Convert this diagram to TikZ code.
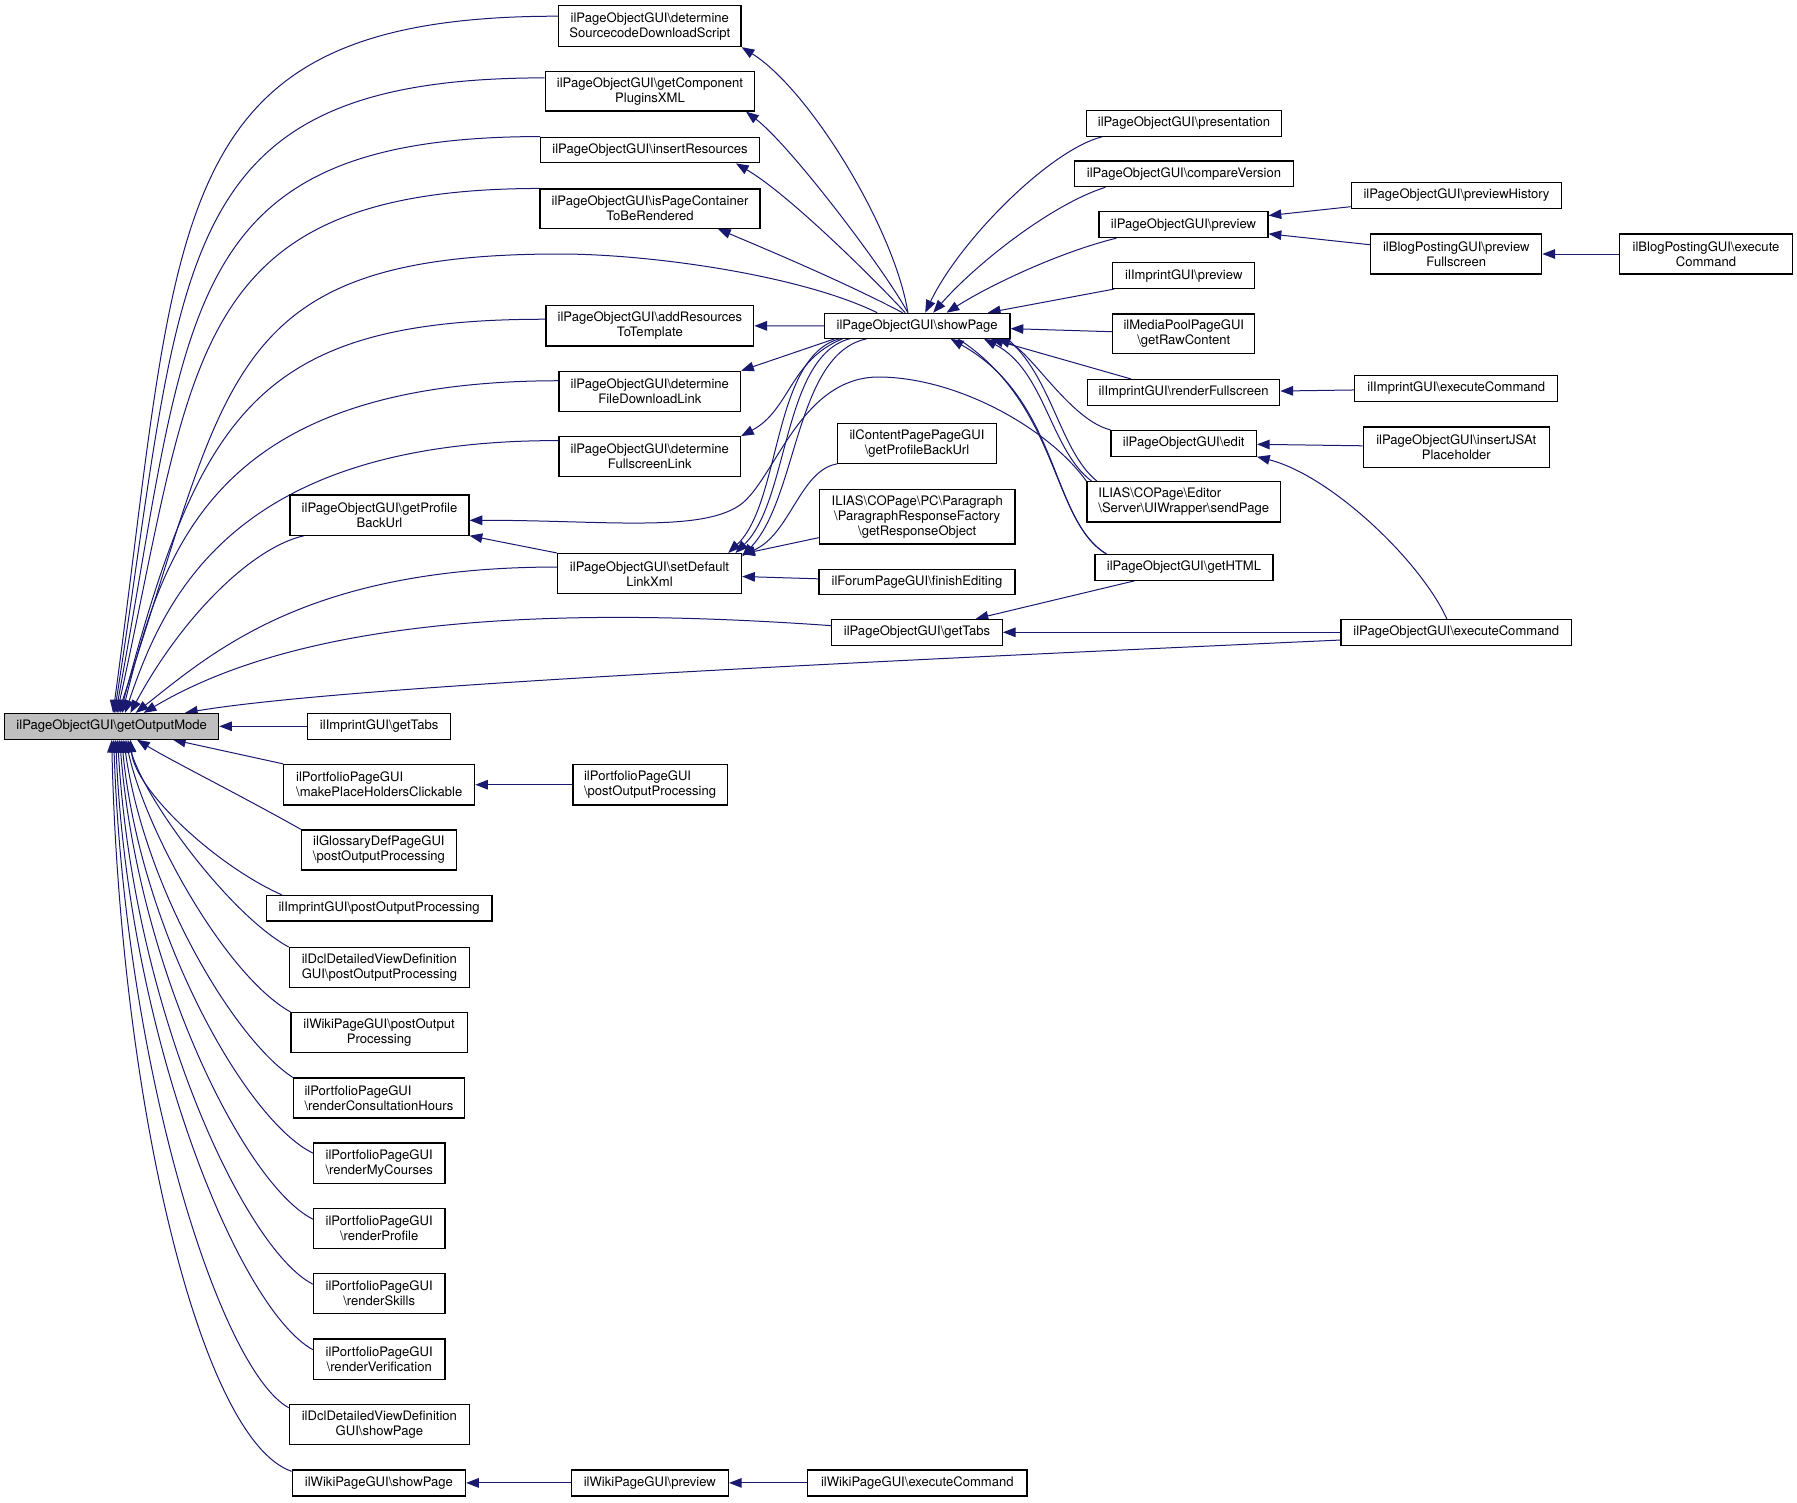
\documentclass[tikz,border=0pt]{standalone}
\usepackage{fontspec}
\setmainfont{TeX Gyre Heros}
\usetikzlibrary{arrows.meta}
\definecolor{edgeblue}{HTML}{191970}
\definecolor{nodegray}{HTML}{BFBFBF}
\newcommand{\bks}{\textbackslash}
\pgfdeclarelayer{bglayer}
\pgfdeclarelayer{edgelayer}
\pgfsetlayers{bglayer,edgelayer,main}
\newcommand{\bx}[6][]{\node[box,minimum width=#4*0.75pt,minimum height=#5*0.75pt,#1] (#2) at (#3) {#6};}
\begin{document}
\begin{tikzpicture}[x=0.75pt,y=-0.75pt,
  box/.style={draw=black,line width=0.9pt,fill=white,inner sep=0pt,align=center,font=\fontsize{9.8pt}{11.25pt}\selectfont},
  e/.style={draw=edgeblue,line width=0.75pt,-{Triangle[length=9.5pt,width=7.2pt]}}]
\useasboundingbox (0,0) rectangle (1797,1502);
\begin{pgfonlayer}{bglayer}
\fill[white] (0,0) rectangle (1797,1502);
\end{pgfonlayer}

% ---- nodes ----
\bx[fill=nodegray]{gom}{111.7,726.3}{214}{25.7}{ilPageObjectGUI\bks getOutputMode}
\bx{sds}{649.8,26.2}{182.5}{40.7}{ilPageObjectGUI\bks determine\\SourcecodeDownloadScript}
\bx{cpx}{650,91.2}{209.5}{39.7}{ilPageObjectGUI\bks getComponent\\PluginsXML}
\bx{irs}{650,150}{218.7}{25.7}{ilPageObjectGUI\bks insertResources}
\bx{ipc}{650,208.7}{220}{39.3}{ilPageObjectGUI\bks isPageContainer\\ToBeRendered}
\bx{art}{649.9,325.9}{207.7}{40.2}{ilPageObjectGUI\bks addResources\\ToTemplate}
\bx{fdl}{649.8,391.4}{181.5}{40.2}{ilPageObjectGUI\bks determine\\FileDownloadLink}
\bx{fsl}{649.8,456.6}{181.5}{39.8}{ilPageObjectGUI\bks determine\\FullscreenLink}
\bx{gpb}{379.5,515}{179}{40.2}{ilPageObjectGUI\bks getProfile\\BackUrl}
\bx{sdl}{649.5,573.7}{184.2}{40.3}{ilPageObjectGUI\bks setDefault\\LinkXml}
\bx{igt}{379.2,726.3}{143}{25.7}{ilImprintGUI\bks getTabs}
\bx[align=left]{mph}{379.2,784.7}{191}{40.5}{ilPortfolioPageGUI\\\bks makePlaceHoldersClickable}
\bx[align=left]{ppo}{650.1,784.7}{154.4}{40.5}{ilPortfolioPageGUI\\\bks postOutputProcessing}
\bx{gdp}{378.9,849.9}{155}{40}{ilGlossaryDefPageGUI\\\bks postOutputProcessing}
\bx{ipo}{379.1,908.2}{225.6}{25.6}{ilImprintGUI\bks postOutputProcessing}
\bx{dpo}{379.4,967.6}{180.2}{40}{ilDclDetailedViewDefinition\\GUI\bks postOutputProcessing}
\bx{wpo}{379.1,1032.5}{176.2}{40}{ilWikiPageGUI\bks postOutput\\Processing}
\bx[align=left]{rch}{378.9,1098}{171}{40}{ilPortfolioPageGUI\\\bks renderConsultationHours}
\bx{rmc}{379.2,1163.2}{131.5}{40.4}{ilPortfolioPageGUI\\\bks renderMyCourses}
\bx{rpf}{379.2,1228.4}{131.5}{40}{ilPortfolioPageGUI\\\bks renderProfile}
\bx{rsk}{379.2,1293.6}{131.5}{40.4}{ilPortfolioPageGUI\\\bks renderSkills}
\bx{rvf}{379.2,1359.1}{131.5}{40.4}{ilPortfolioPageGUI\\\bks renderVerification}
\bx{dsp}{379.4,1424.3}{180.2}{40}{ilDclDetailedViewDefinition\\GUI\bks showPage}
\bx{wsp}{378.9,1482.9}{173.3}{26}{ilWikiPageGUI\bks showPage}
\bx{wpv}{649.8,1482.9}{157.3}{26}{ilWikiPageGUI\bks preview}
\bx{wec}{917.3,1482.9}{219.4}{26}{ilWikiPageGUI\bks executeCommand}
\bx{shp}{917.2,325.8}{185.7}{25}{ilPageObjectGUI\bks showPage}
\bx{cpb}{917,443.3}{158.6}{40}{ilContentPagePageGUI\\\bks getProfileBackUrl}
\bx{prf}{917.2,516.7}{195.7}{54.7}{ILIAS\bks COPage\bks PC\bks Paragraph\\\bks ParagraphResponseFactory\\\bks getResponseObject}
\bx{fed}{917,581.8}{196}{25}{ilForumPageGUI\bks finishEditing}
\bx{pgt}{917,632.3}{170.7}{25.7}{ilPageObjectGUI\bks getTabs}
\bx{pre}{1184,123.4}{195}{25.7}{ilPageObjectGUI\bks presentation}
\bx{cmp}{1184,173.8}{219}{25.7}{ilPageObjectGUI\bks compareVersion}
\bx{prv}{1183.5,224.7}{169}{25.7}{ilPageObjectGUI\bks preview}
\bx{ipv}{1183.8,275.6}{142}{25.7}{ilImprintGUI\bks preview}
\bx{grc}{1183.8,333.9}{142}{39.8}{ilMediaPoolPageGUI\\\bks getRawContent}
\bx{rfs}{1183.7,392.4}{192.2}{25.7}{ilImprintGUI\bks renderFullscreen}
\bx{edt}{1183.7,443.3}{145.4}{25.7}{ilPageObjectGUI\bks edit}
\bx[align=left]{snd}{1183.7,501.9}{193.4}{40.2}{ILIAS\bks COPage\bks Editor\\\bks Server\bks UIWrapper\bks sendPage}
\bx{htm}{1184,567.4}{178}{25.7}{ilPageObjectGUI\bks getHTML}
\bx{pec}{1456.2,632.3}{230.5}{25.7}{ilPageObjectGUI\bks executeCommand}
\bx{pvh}{1456.5,195.3}{210.5}{26}{ilPageObjectGUI\bks previewHistory}
\bx{bpf}{1456.3,254}{171}{40}{ilBlogPostingGUI\bks preview\\Fullscreen}
\bx{iec}{1456.3,388.5}{203}{25.7}{ilImprintGUI\bks executeCommand}
\bx{ijs}{1456.3,447.1}{186}{40.2}{ilPageObjectGUI\bks insertJSAt\\Placeholder}
\bx{bec}{1706,254}{172.7}{40}{ilBlogPostingGUI\bks execute\\Command}

% ---- edges ----
\begin{pgfonlayer}{edgelayer}
% upper fan into getOutputMode
\draw[e] ([yshift=7.5pt]sds.west) .. controls (159,16) and (181,213) .. ([xshift=1pt]gom.north);
\draw[e] ([yshift=10pt]cpx.west) .. controls (165,78) and (185,260) .. ([xshift=2pt]gom.north);
\draw[e] (irs.north west) .. controls (175,137) and (190,310) .. ([xshift=3pt]gom.north);
\draw[e] (ipc.north west) .. controls (185,189) and (195,360) .. ([xshift=4pt]gom.north);
\draw[e] ([xshift=-30pt]shp.north) .. controls (800,275) and (650,254) .. (560,254) .. controls (220,254) and (230,380) .. ([xshift=5pt]gom.north);
\draw[e] ([yshift=5pt]art.west) .. controls (260,319) and (200,410) .. ([xshift=6.5pt]gom.north);
\draw[e] ([yshift=8pt]fdl.west) .. controls (220,381) and (165,540) .. ([xshift=8pt]gom.north);
\draw[e] ([yshift=12pt]fsl.west) .. controls (235,440) and (165,595) .. ([xshift=10pt]gom.north);
\draw[e] ([xshift=11pt]gpb.south west) .. controls (250,548) and (180,620) .. ([xshift=14pt]gom.north);
\draw[e] ([yshift=5pt]sdl.west) .. controls (310,567) and (215,650) .. ([xshift=18pt]gom.north);
\draw[e] ([yshift=5pt]pgt.west) .. controls (540,605) and (300,620) .. ([xshift=24pt]gom.north);
\draw[e] ([yshift=-5.8pt]pec.west) .. controls (900,660) and (350,685) .. ([xshift=55pt]gom.north);
% lower fan into getOutputMode
\draw[e] (igt) -- (gom);
\draw[e] (mph.north west) -- ([xshift=46pt]gom.south);
\draw[e] (gdp.north west) .. controls (240,795) and (170,760) .. ([xshift=19pt]gom.south);
\draw[e] ([xshift=12pt]ipo.north west) .. controls (215,865) and (135,790) .. ([xshift=14pt]gom.south);
\draw[e] (dpo.north west) .. controls (230,915) and (145,800) .. ([xshift=12pt]gom.south);
\draw[e] (wpo.north west) .. controls (225,975) and (145,830) .. ([xshift=10.5pt]gom.south);
\draw[e] (rch.north west) .. controls (235,1040) and (145,890) .. ([xshift=9pt]gom.south);
\draw[e] ([yshift=-8pt]rmc.north west) .. controls (245,1120) and (140,930) .. ([xshift=7.5pt]gom.south);
\draw[e] ([yshift=-8.5pt]rpf.north west) .. controls (245,1185) and (138,970) .. ([xshift=6pt]gom.south);
\draw[e] ([yshift=-8.5pt]rsk.north west) .. controls (245,1250) and (133,1010) .. ([xshift=4.5pt]gom.south);
\draw[e] ([yshift=-8.5pt]rvf.north west) .. controls (240,1310) and (128,1040) .. ([xshift=3pt]gom.south);
\draw[e] ([yshift=-3pt]dsp.north west) .. controls (220,1370) and (125,1070) .. ([xshift=1.5pt]gom.south);
\draw[e] ([yshift=-1.5pt]wsp.north west) .. controls (200,1440) and (120,1100) .. (gom.south);
\draw[e] (ppo) -- (mph);
\draw[e] (wpv) -- (wsp);
\draw[e] (wec) -- (wpv);
% getProfileBackUrl
\draw[e] (sdl.north west) -- (gpb.south east);
\draw[e] (snd.north west) .. controls (1050,430) and (960,378) .. (880,377) .. controls (800,376) and (775,480) .. (740,505) .. controls (700,533) and (600,520) .. ([yshift=-4pt]gpb.east);
% showPage calls
\draw[e] ([xshift=-7pt]shp.north) .. controls (895,230) and (810,90) .. (sds.south east);
\draw[e] ([xshift=-7pt]shp.north) .. controls (885,270) and (790,145) .. ([xshift=-7pt]cpx.south east);
\draw[e] ([xshift=-9pt]shp.north) .. controls (880,285) and (790,195) .. ([xshift=-18pt]irs.south east);
\draw[e] ([xshift=-11pt]shp.north) .. controls (850,285) and (780,255) .. ([xshift=-32pt]ipc.south east);
\draw[e] (shp) -- (art);
\draw[e] ([xshift=8pt]shp.south west) -- (fdl.north east);
\draw[e] ([xshift=14pt]shp.south west) .. controls (790,360) and (790,410) .. (fsl.north east);
\draw[e] ([xshift=32pt]shp.south west) .. controls (795,354) and (798,498) .. ([yshift=-2.5pt]sdl.north east);
\draw[e] ([xshift=8pt]snd.north west) .. controls (1058,450) and (1052,370) .. (1000,333) .. controls (960,326) and (890,326) .. (853,338) .. controls (782,352) and (790,500) .. ([xshift=-5pt]sdl.north east);
\draw[e] ([xshift=9pt]htm.north west) .. controls (1050,520) and (1060,400) .. (952,335) .. controls (920,328) and (870,328) .. (843,338) .. controls (772,352) and (782,502) .. ([xshift=-10.5pt]sdl.north east);
% into setDefaultLinkXml
\draw[e] (cpb.south west) .. controls (800,470) and (790,535) .. ([yshift=-1.5pt]sdl.north east);
\draw[e] (prf) -- (sdl);
\draw[e] (fed) -- (sdl);
% callers of showPage
\draw[e] ([xshift=12pt]pre.south west) .. controls (1050,150) and (960,240) .. ([xshift=6pt]shp.north);
\draw[e] ([xshift=23.6pt]cmp.south west) .. controls (1050,205) and (975,265) .. ([xshift=12pt]shp.north);
\draw[e] ([xshift=13.5pt]prv.south west) .. controls (1060,252) and (990,285) .. ([xshift=22pt]shp.north);
\draw[e] ([xshift=1.5pt]ipv.south west) -- ([xshift=53pt]shp.north);
\draw[e] (grc) -- (shp);
\draw[e] ([xshift=33pt]rfs.north west) -- ([xshift=-15pt]shp.south east);
\draw[e] (edt.north west) .. controls (1070,420) and (1030,350) .. ([xshift=-10pt]shp.south east);
\draw[e] ([xshift=4pt]snd.north west) .. controls (1050,450) and (1045,370) .. ([xshift=-20pt]shp.south east);
\draw[e] ([xshift=9pt]htm.north west) .. controls (1050,520) and (1060,400) .. ([xshift=-45pt]shp.south east);
% right part
\draw[e] ([xshift=30pt]htm.south west) -- ([xshift=-20.5pt]pgt.north east);
\draw[e] (pec) -- (pgt);
\draw[e] ([xshift=-7pt]pec.north) .. controls (1420,560) and (1330,475) .. (edt.south east);
\draw[e] (pvh) -- (prv);
\draw[e] (bpf) -- (prv);
\draw[e] (bec) -- (bpf);
\draw[e] (iec) -- (rfs);
\draw[e] (ijs) -- (edt);
\end{pgfonlayer}
\end{tikzpicture}
\end{document}
